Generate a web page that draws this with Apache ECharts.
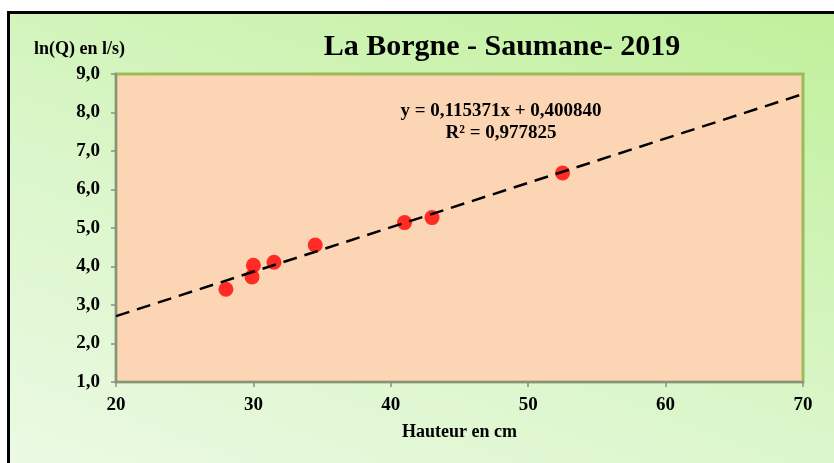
<!DOCTYPE html>
<html>
<head>
<meta charset="utf-8">
<script src="https://cdn.jsdelivr.net/npm/echarts@6/dist/echarts.min.js"></script>
<style>
  html, body { margin: 0; padding: 0; background: #fff; overflow: hidden; }
  .frame {
    position: absolute;
    left: 7px;
    top: 11px;
    width: 840px;
    height: 460px;
    border-left: 3px solid #000;
    border-top: 3px solid #000;
    background: linear-gradient(20deg, #ecfae4 0%, #daf6c9 45%, #bff09a 100%);
  }
  #chart { position: absolute; left: 0; top: 0; width: 834px; height: 463px; }
</style>
</head>
<body>
<div class="frame"></div>
<div id="chart"></div>
<script>
  // mesures (hauteur en cm, ln(Q) en l/s)
  const hauteur = [28, 29.9, 30, 31.5, 34.5, 41, 43, 52.5]
  const lnQ = [3.41, 3.73, 4.03, 4.11, 4.56, 5.14, 5.27, 6.43]

  // droite de tendance
  const trendX = [20, 70]
  const trendY = [2.71, 8.48]

  const titleText = 'La Borgne - Saumane- 2019'
  const yName = 'ln(Q) en l/s)'
  const xName = 'Hauteur en cm'
  const equation = 'y = 0,115371x + 0,400840'
  const r2 = 'R² = 0,977825'

  const font = '"Liberation Serif", "Times New Roman", serif'
  const axisGrey = '#8c8c8c'

  const chart = echarts.init(document.getElementById('chart'), null, { renderer: 'canvas' })

  const option = {
    backgroundColor: 'transparent',
    animation: false,
    textStyle: { fontFamily: font },
    title: [
      {
        text: titleText,
        left: 497,
        top: 27,
        textAlign: 'center',
        textStyle: { fontFamily: font, fontSize: 30, fontWeight: 'bold', color: '#000' }
      },
      {
        text: yName,
        left: 29,
        top: 35,
        textStyle: { fontFamily: font, fontSize: 18, fontWeight: 'bold', color: '#000' }
      },
      {
        text: equation + '\n' + r2,
        left: 496,
        top: 95,
        textAlign: 'center',
        textStyle: { fontFamily: font, fontSize: 19, fontWeight: 'bold', color: '#000', lineHeight: 22, align: 'center' }
      }
    ],
    grid: {
      left: 116,
      right: 31,
      top: 74,
      bottom: 81,
      show: true,
      backgroundColor: '#fcd5b4',
      borderColor: '#9bbb59',
      borderWidth: 3
    },
    xAxis: {
      type: 'value',
      min: 20,
      max: 70,
      interval: 10,
      name: xName,
      nameLocation: 'middle',
      nameGap: 41,
      nameTextStyle: { fontFamily: font, fontSize: 18, fontWeight: 'bold', color: '#000' },
      axisLine: { show: true, lineStyle: { color: axisGrey, width: 2 } },
      axisTick: { show: true, length: 5, lineStyle: { color: axisGrey, width: 1.5 } },
      axisLabel: { margin: 14, fontFamily: font, fontSize: 19, fontWeight: 'bold', color: '#000' },
      splitLine: { show: false }
    },
    yAxis: {
      type: 'value',
      min: 1,
      max: 9,
      interval: 1,
      axisLine: { show: true, lineStyle: { color: axisGrey, width: 2 } },
      axisTick: { show: true, length: 5, lineStyle: { color: axisGrey, width: 1.5 } },
      axisLabel: {
        margin: 16,
        fontFamily: font,
        fontSize: 19,
        fontWeight: 'bold',
        color: '#000',
        formatter: (v) => v.toFixed(1).replace('.', ',')
      },
      splitLine: { show: false }
    },
    series: [
      {
        type: 'line',
        data: trendX.map((x, i) => [x, trendY[i]]),
        showSymbol: false,
        symbol: 'none',
        lineStyle: { color: '#000', width: 2.5, type: [14, 8] },
        z: 3
      },
      {
        type: 'scatter',
        data: hauteur.map((x, i) => [x, lnQ[i]]),
        symbol: 'circle',
        symbolSize: 15,
        itemStyle: { color: '#ff0000' },
        z: 2
      }
    ]
  }

  chart.setOption(option)
</script>
</body>
</html>
